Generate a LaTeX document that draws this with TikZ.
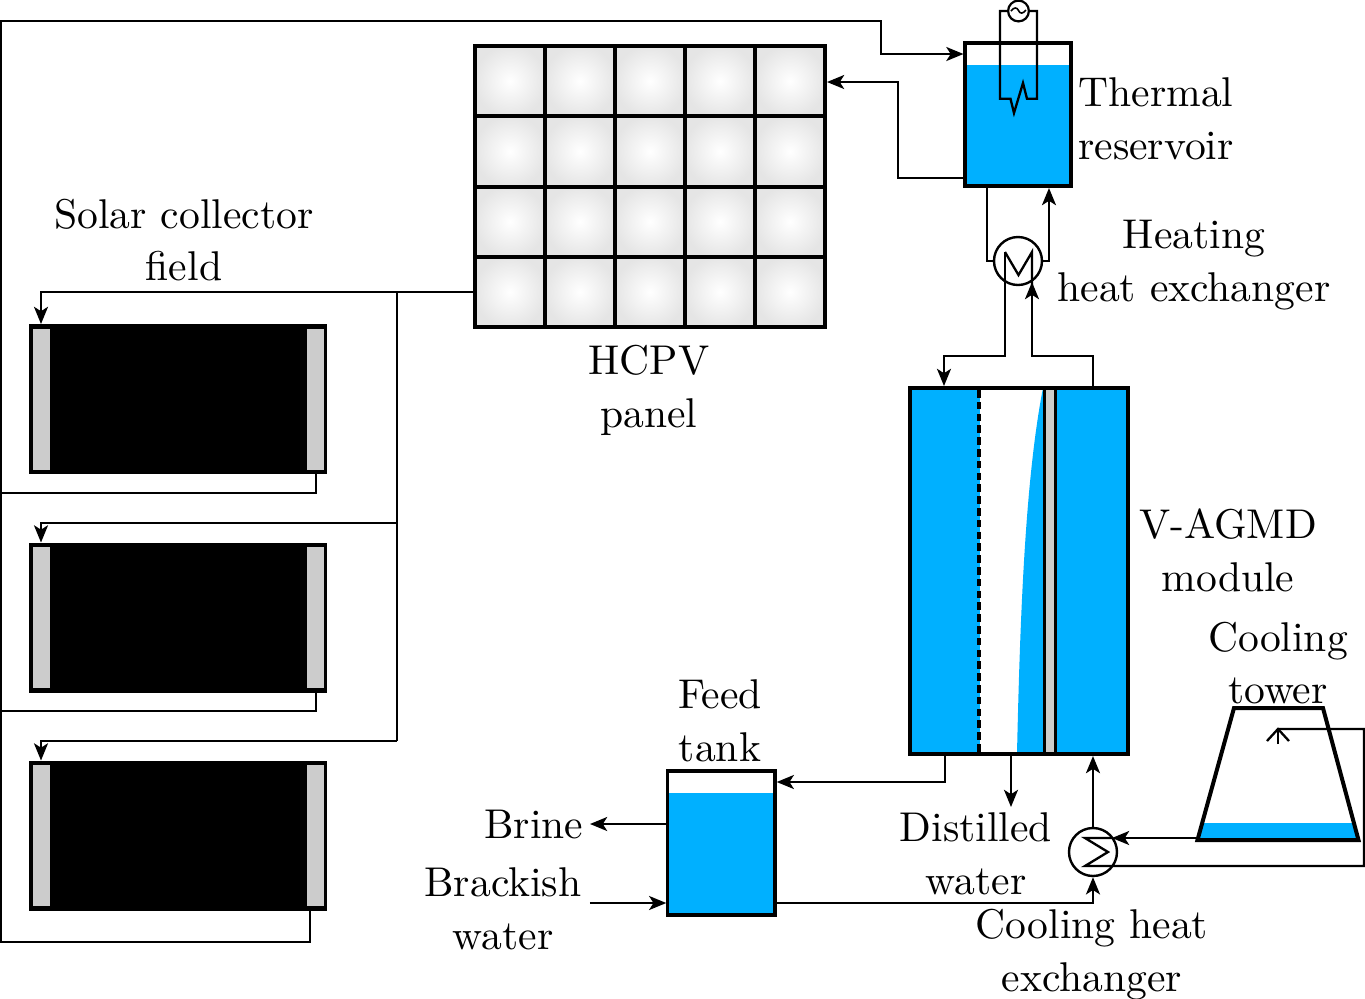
\documentclass[tikz,border=0pt]{standalone}
\usetikzlibrary{arrows.meta,calc}
\definecolor{water}{HTML}{00B0FF}
\definecolor{bargray}{HTML}{CCCCCC}
\tikzset{
  x=0.25pt,y=-0.25pt,
  pipe/.style={line width=0.58pt,line join=miter},
  flow/.style={pipe,-{Stealth[length=4.3pt,width=3.5pt,inset=1.1pt]}},
  heavy/.style={draw,line width=1pt,inner sep=0pt},
  wetfill/.style={fill=water,draw=none},
  hx/.style={circle,draw,line width=0.6pt,minimum size=12pt,inner sep=0pt,fill=none},
  cell/.style={rectangle,minimum width=17.5pt,minimum height=17.6pt,inner sep=0pt,shading=radial,inner color=white,outer color=black!10},
  bar/.style={fill=bargray,draw=none},
  lbl/.style={align=center,font=\fontsize{10.4}{13.2}\selectfont,inner sep=0pt},
}
\begin{document}
\begin{tikzpicture}
\useasboundingbox (0,0) rectangle (1365,999);
% HCPV panel
\foreach \c in {0,...,4}{\foreach \r in {0,...,3}{
  \node[cell] (cell\c\r) at ({510+70*\c},{81.1+70.25*\r}) {};
}}
\foreach \xx in {545,615,685,755}{\draw[line width=1pt] (\xx,46)--(\xx,327);}
\foreach \yy in {116.3,186.5,256.8}{\draw[line width=1pt] (475,\yy)--(825,\yy);}
\node[heavy,minimum width=87.5pt,minimum height=70.25pt] (grid) at (650,186.5) {};
% Collectors
\foreach \i/\yc in {1/399,2/617.5,3/835.5}{
  \node[heavy,fill=black,minimum width=73.5pt,minimum height=36.5pt] (col\i) at (178.5,\yc) {};
  \fill[bar] (33,{\yc-70.5}) rectangle (50,{\yc+70.5});
  \fill[bar] (307,{\yc-70.5}) rectangle (324,{\yc+70.5});
}
% Thermal reservoir
\fill[wetfill] (965,65) rectangle (1071,186);
\node[heavy,minimum width=26.4pt,minimum height=35.75pt] (thermal) at (1018.3,114.5) {};
\node[circle,draw,line width=0.55pt,minimum size=5.2pt,inner sep=0pt] (heater) at (1018.5,11) {};
\draw[pipe] (heater.west) -- (1000,11) -- (1000,98.7) -- (1010.5,98.7) -- (1014,113) -- (1023,83) -- (1027,98.7) -- (1037,98.7) -- (1037,11) -- (heater.east);
\draw[line width=0.4pt] (1011,11) .. controls (1014,7) and (1017,7) .. (1018.5,10.5) .. controls (1020,14) and (1023,14) .. (1026,10);
% Heating heat exchanger
\node[hx] (hxh) at (1018,261) {};
% V-AGMD module
\fill[wetfill] (910,388) rectangle (980,754);
\fill[wetfill] (1056,388) rectangle (1128,754);
\fill[wetfill] (1017,754) .. controls (1020,620) and (1025,480) .. (1043,388) -- (1046,388) -- (1046,754) -- cycle;
\fill[bargray] (1045,388) rectangle (1055,754);
\draw[line width=0.8pt] (1044.5,388) -- (1044.5,754);
\draw[line width=0.8pt] (1055.5,388) -- (1055.5,754);
\draw[line width=1pt,dash pattern=on 1.9pt off 1.05pt] (979.5,390) -- (979.5,754);
\node[heavy,minimum width=54.3pt,minimum height=91.5pt] (module) at (1019,571) {};
% Feed tank
\fill[wetfill] (668,793) rectangle (775,914);
\node[heavy,line width=0.8pt,minimum width=26.8pt,minimum height=36pt] (feed) at (721.5,843) {};
% Cooling tower
\fill[wetfill] (1201,823) -- (1355,823) -- (1359,840) -- (1197,840) -- cycle;
\node[inner sep=0pt,minimum width=40pt,minimum height=33pt] (tower) at (1278,774) {};
\draw[line width=1pt,line join=miter] (1197.5,840) -- (1234,708) -- (1323,708) -- (1358.5,840) -- cycle;
% Cooling heat exchanger
\node[hx] (hxc) at (1093,852) {};
% Pipes: solar loop
\draw[flow] (grid.west |- 0,292) -- (41,292) -- (col1.north -| 41,0);
\draw[pipe] (397,292) -- (397,741);
\draw[flow] (397,523) -- (41,523) -- (col2.north -| 41,0);
\draw[flow] (397,741) -- (41,741) -- (col3.north -| 41,0);
\draw[pipe] (col1.south -| 316,0) -- (316,493) -- (1,493);
\draw[pipe] (col2.south -| 316,0) -- (316,711) -- (1,711);
\draw[flow] (col3.south -| 310,0) -- (310,942) -- (1,942) -- (1,21) -- (881,21) -- (881,54) -- (thermal.west |- 0,54);
\draw[flow] (thermal.west |- 0,178) -- (898,178) -- (898,82) -- (grid.east |- 0,82);
% Pipes: heating loop
\draw[pipe] (thermal.south -| 987,0) -- (987,261) -- (hxh.west);
\draw[flow] (hxh.east) -- (1049,261) -- (thermal.south -| 1049,0);
\draw[pipe] (1005,252) -- (1018.5,275) -- (1032,252) -- (1032,285);
\draw[flow] (1005,252) -- (1005,356) -- (944,356) -- (module.north -| 944,0);
\draw[flow] (module.north -| 1093,0) -- (1093,356) -- (1032,356) -- (1032,282);
% Pipes: feed and cooling
\draw[flow] (module.south -| 945,0) -- (945,782) -- (feed.east |- 0,782);
\draw[flow] (feed.west |- 0,824) -- (590,824);
\draw[flow] (590,903) -- (feed.west |- 0,903);
\draw[flow] (feed.east |- 0,903) -- (1093,903) -- (hxc.south);
\draw[flow] (module.south -| 1011,0) -- (1011,807);
\draw[flow] (hxc.north) -- (module.south -| 1093,0);
\draw[flow] (1197,838) -- (1112,838);
\draw[pipe] (1112,838) -- (1085,838) -- (1108,852) -- (1085,866) -- (1364,866) -- (1364,729) -- (1278,729);
\draw[pipe] (1278,744) -- (1278,729);
\draw[pipe] (1267,741) -- (1278,729) -- (1289,741);
% Labels
\node[lbl] (tSolar) at (184,240) {Solar collector\\field};
\node[lbl] (tHcpv) at (649,390) {HCPV\\panel};
\node[lbl] (tTherm) at (1156,119) {Thermal\\reservoir};
\node[lbl] (tHeat) at (1194,265) {Heating\\heat exchanger};
\node[lbl] (tVagmd) at (1228,550) {V-AGMD\\module};
\node[lbl] (tTower) at (1278,663) {Cooling\\tower};
\node[lbl] (tFeed) at (720,721) {Feed\\tank};
\node[lbl,anchor=base] (tBrine) at (534,838) {Brine};
\node[lbl] (tBrack) at (503,909) {Brackish\\water};
\node[lbl] (tDist) at (976,854) {Distilled\\water};
\node[lbl] (tCool) at (1092,955) {Cooling heat\\exchanger};
\end{tikzpicture}
\end{document}
